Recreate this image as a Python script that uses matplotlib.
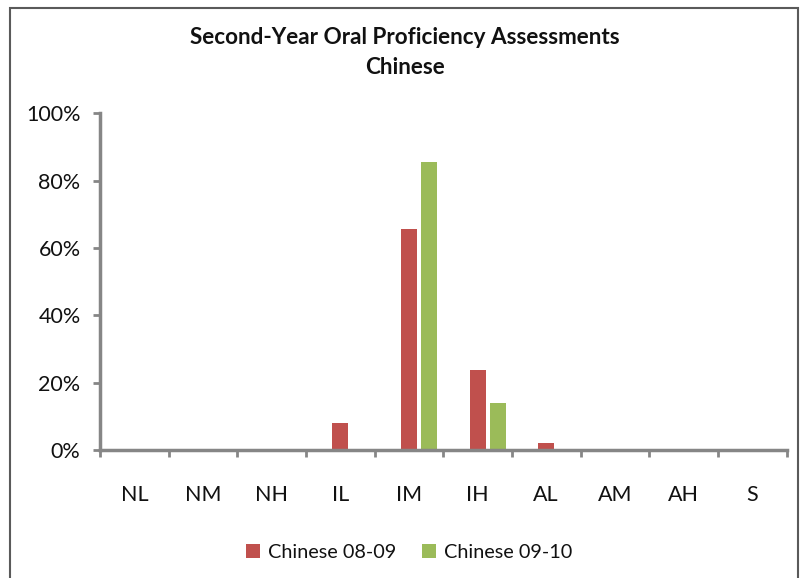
import matplotlib
matplotlib.use("Agg")
import matplotlib.pyplot as plt
from matplotlib.patches import Rectangle
from matplotlib.ticker import FixedLocator, PercentFormatter
import numpy as np

plt.rcParams['font.family'] = ['Lato', 'DejaVu Sans']

categories = ["NL", "NM", "NH", "IL", "IM", "IH", "AL", "AM", "AH", "S"]
series_names = ["Chinese 08-09", "Chinese 09-10"]
values_0809 = [0, 0, 0, 7.9, 65.7, 23.7, 2.2, 0, 0, 0]
values_0910 = [0, 0, 0, 0, 85.5, 14.1, 0, 0, 0, 0]
colors = ["#C0504D", "#9BBB59"]

W, H = 801, 578
fig = plt.figure(figsize=(W / 100, H / 100), dpi=100)

# outer chart border
fig.patches.append(Rectangle((9.5 / W, -0.01), (798 - 9.5) / W, 1 - 7.5 / H + 0.01,
                             transform=fig.transFigure, fill=False,
                             edgecolor="#5a5a5a", linewidth=1.5))

x0, x1 = 100, 786.5
y_top, y_bot = 113.3, 450
ax = fig.add_axes([x0 / W, 1 - y_bot / H, (x1 - x0) / W, (y_bot - y_top) / H])

x = np.arange(len(categories))
bw = 0.235
ax.bar(x, values_0809, width=bw, color=colors[0], label=series_names[0])
ax.bar(x + 0.292, values_0910, width=bw, color=colors[1], label=series_names[1])

ax.set_xlim(-0.5, len(categories) - 0.5)
ax.set_ylim(0, 100)
ax.set_yticks([0, 20, 40, 60, 80, 100])
ax.yaxis.set_major_formatter(PercentFormatter(decimals=0))

ax.set_xticks(x)
ax.set_xticklabels(categories)
ax.xaxis.set_minor_locator(FixedLocator(np.arange(-0.5, len(categories), 1.0)))
ax.tick_params(axis='x', which='major', length=0, pad=25, labelsize=15.5, labelcolor="#111111")
ax.tick_params(axis='x', which='minor', length=5, width=2, color="#868686", direction='out')
ax.tick_params(axis='y', which='major', length=5, width=2, color="#868686", direction='out',
               labelsize=15.5, pad=9, labelcolor="#111111")

for s in ["top", "right"]:
    ax.spines[s].set_visible(False)
for s in ["left", "bottom"]:
    ax.spines[s].set_color("#868686")
    ax.spines[s].set_linewidth(2.5)

fig.text(405 / W, 1 - 38 / H, "Second-Year Oral Proficiency Assessments",
         ha='center', va='center', fontsize=16.2, fontweight='bold', color="#111111")
fig.text(405 / W, 1 - 68 / H, "Chinese",
         ha='center', va='center', fontsize=16.2, fontweight='bold', color="#111111")

leg = fig.legend(loc='center', bbox_to_anchor=(409 / W, 1 - 552 / H), ncol=2,
                 frameon=False, fontsize=14.3, handlelength=0.7, handleheight=0.7,
                 handletextpad=0.4, columnspacing=1.3)
for t in leg.get_texts():
    t.set_color("#111111")

fig.savefig("out.png", dpi=100)
